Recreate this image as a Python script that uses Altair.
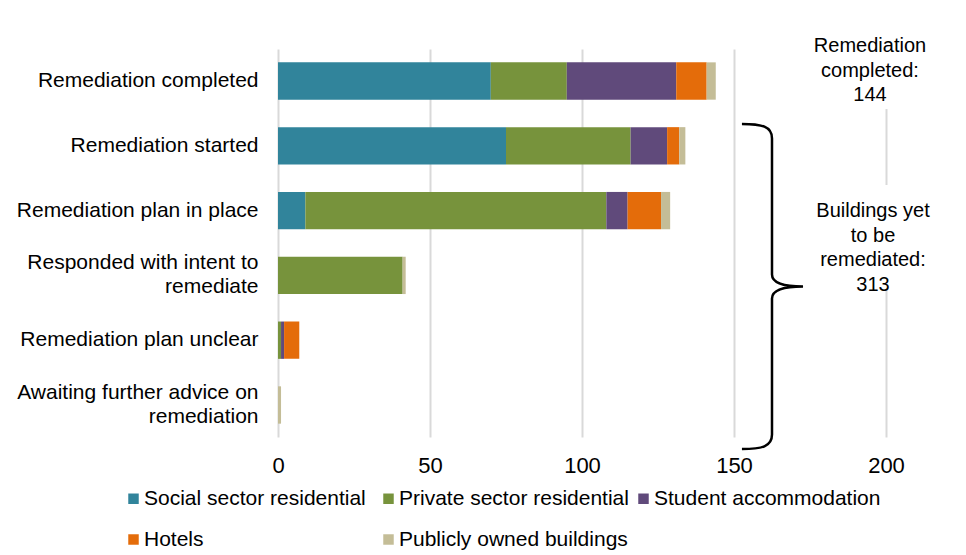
import altair as alt
import pandas as pd

# ---- data -------------------------------------------------------------
categories = [
    "Remediation completed",
    "Remediation started",
    "Remediation plan in place",
    "Responded with intent to\nremediate",
    "Remediation plan unclear",
    "Awaiting further advice on\nremediation",
]
series = [
    "Social sector residential",
    "Private sector residential",
    "Student accommodation",
    "Hotels",
    "Publicly owned buildings",
]
social = [70, 75, 9, 0, 0, 0]
private = [25, 41, 99, 41, 1, 0]
student = [36, 12, 7, 0, 1, 0]
hotels = [10, 4, 11, 0, 5, 0]
public = [3, 2, 3, 1, 0, 1]
colors = ["#31849B", "#77933C", "#604A7B", "#E46C0A", "#C4BD97"]

ann1_text = ["Remediation", "completed:", "144"]
ann2_text = ["Buildings yet", "to be", "remediated:", "313"]

# ---- long table --------------------------------------------------------
rows = []
for si, (name, vals) in enumerate(zip(series, [social, private, student, hotels, public])):
    for cat, v in zip(categories, vals):
        if v > 0:
            rows.append({"category": cat, "series": name, "value": v, "idx": si})
df = pd.DataFrame(rows)

FONT = "Liberation Sans"
W, H = 608, 388

bars = alt.Chart(df).mark_bar().encode(
    y=alt.Y(
        "category:N",
        sort=categories,
        scale=alt.Scale(paddingInner=0.424, paddingOuter=0.206),
        axis=alt.Axis(
            title=None,
            domain=False,
            ticks=False,
            labelPadding=20,
            labelFontSize=21,
            labelFont=FONT,
            labelColor="#000000",
            labelLineHeight=24,
            labelLimit=400,
            labelOffset={
                "condition": {"test": "indexof(datum.label, '\\n') >= 0", "value": -12},
                "value": 0,
            },
            labelExpr="split(datum.label, '\\n')",
        ),
    ),
    x=alt.X(
        "value:Q",
        stack="zero",
        scale=alt.Scale(domain=[0, 200], nice=False),
        axis=alt.Axis(
            title=None,
            values=[0, 50, 100, 150, 200],
            domain=False,
            ticks=False,
            grid=True,
            gridColor="#D9D9D9",
            gridWidth=2,
            labelFlush=False,
            labelPadding=18,
            labelFontSize=22,
            labelFont=FONT,
            labelColor="#000000",
        ),
    ),
    color=alt.Color(
        "series:N",
        scale=alt.Scale(domain=series, range=colors),
        legend=alt.Legend(
            title=None,
            orient="none",
            direction="horizontal",
            legendX=-155,
            legendY=439,
            columns=3,
            gridAlign="all",
            columnPadding=4,
            rowPadding=19,
            symbolType="square",
            symbolSize=110,
            symbolStrokeWidth=0,
            symbolOffset=0,
            labelOffset=0,
            labelFontSize=21,
            labelFont=FONT,
            labelColor="#000000",
            labelLimit=0,
        ),
    ),
    order=alt.Order("idx:Q", sort="ascending"),
)

one = pd.DataFrame({"k": [0]})

gaps = alt.Chart(one).mark_rect(color="white").encode(
    x=alt.value(598), x2=alt.value(616), y=alt.value(0), y2=alt.value(60)
)
gaps2 = alt.Chart(one).mark_rect(color="white").encode(
    x=alt.value(598), x2=alt.value(616), y=alt.value(136), y2=alt.value(241)
)

ann1 = alt.Chart(one).mark_text(
    text=ann1_text, font=FONT, fontSize=20, lineHeight=24.5,
    align="center", baseline="top", color="#000000",
).encode(x=alt.value(592), y=alt.value(-12.6))

ann2 = alt.Chart(one).mark_text(
    text=ann2_text, font=FONT, fontSize=20, lineHeight=24.5,
    align="center", baseline="top", color="#000000",
).encode(x=alt.value(595), y=alt.value(152))

brace_path = (
    "M -0.185 -1 C -0.062 -1 0 -0.985 0 -0.911 L 0 -0.074 "
    "C 0 -0.025 0.062 0 0.191 0 M 0.191 0 C 0.062 0 0 0.025 0 0.074 "
    "L 0 0.911 C 0 0.985 -0.062 1 -0.185 1"
)
brace = alt.Chart(one).mark_point(
    shape=brace_path, size=325 * 325, filled=False,
    stroke="#000000", strokeWidth=2.5, opacity=1,
).encode(x=alt.value(494), y=alt.value(237.5))

chart = alt.layer(bars, gaps, gaps2, ann1, ann2, brace).properties(
    width=W,
    height=H,
    padding={"left": 270, "top": 41, "right": 72, "bottom": 116},
    autosize="none",
    background="white",
).configure_view(stroke=None)

chart.save("out.html", embed_options={"renderer": "svg", "actions": False})
